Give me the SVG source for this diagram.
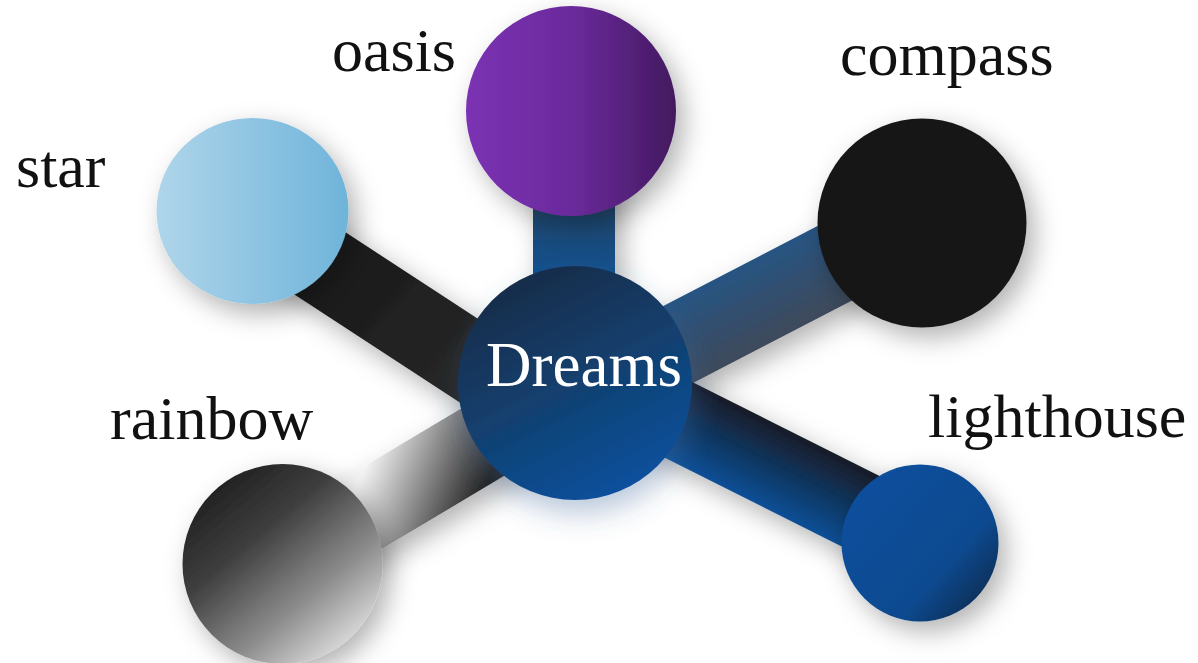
<svg xmlns="http://www.w3.org/2000/svg" width="1198" height="663" viewBox="0 0 1198 663">
  <style>
    .lbl { font-family: "Liberation Serif", "Times New Roman", serif; font-size: 62px; fill: #111111; }
    .center { font-family: "Liberation Serif", "Times New Roman", serif; font-size: 63px; fill: #ffffff; text-anchor: middle; }
  </style>
  <defs>
    <filter id="sh" x="-50%" y="-50%" width="200%" height="200%">
      <feGaussianBlur in="SourceAlpha" stdDeviation="13"/>
      <feOffset dx="8" dy="10" result="ob"/>
      <feFlood flood-color="#000000" flood-opacity="0.3"/>
      <feComposite in2="ob" operator="in"/>
      <feMerge><feMergeNode/><feMergeNode in="SourceGraphic"/></feMerge>
    </filter>
    <filter id="shBlue" x="-50%" y="-50%" width="200%" height="200%">
      <feGaussianBlur in="SourceAlpha" stdDeviation="14"/>
      <feOffset dx="4" dy="14" result="ob"/>
      <feFlood flood-color="#3f6599" flood-opacity="0.35"/>
      <feComposite in2="ob" operator="in"/>
      <feMerge><feMergeNode/><feMergeNode in="SourceGraphic"/></feMerge>
    </filter>
    <linearGradient id="gDreams" x1="0.25" y1="0" x2="0.75" y2="1">
      <stop offset="0" stop-color="#172a46"/>
      <stop offset="0.5" stop-color="#12406f"/>
      <stop offset="1" stop-color="#0b52a2"/>
    </linearGradient>
    <linearGradient id="gOasis" x1="0" y1="0" x2="1" y2="0">
      <stop offset="0" stop-color="#7b31b3"/>
      <stop offset="0.5" stop-color="#6b2b9c"/>
      <stop offset="1" stop-color="#43195f"/>
    </linearGradient>
    <linearGradient id="gStar" x1="0" y1="0" x2="1" y2="0">
      <stop offset="0" stop-color="#afd5ea"/>
      <stop offset="1" stop-color="#6fb4da"/>
    </linearGradient>
    <linearGradient id="gRainbow" x1="0.1" y1="0.05" x2="0.85" y2="0.95">
      <stop offset="0" stop-color="#1a1a1a"/>
      <stop offset="0.35" stop-color="#3e3e3e"/>
      <stop offset="0.7" stop-color="#8e8e8e"/>
      <stop offset="1" stop-color="#e6e6e6"/>
    </linearGradient>
    <linearGradient id="gLight" x1="0.1" y1="0.1" x2="1" y2="0.9">
      <stop offset="0" stop-color="#0b4f9d"/>
      <stop offset="0.65" stop-color="#0c4a90"/>
      <stop offset="0.88" stop-color="#0f3360"/>
      <stop offset="1" stop-color="#141a22"/>
    </linearGradient>
    <linearGradient id="cStar" gradientUnits="userSpaceOnUse" x1="300" y1="200" x2="560" y2="430">
      <stop offset="0" stop-color="#161616"/>
      <stop offset="1" stop-color="#2e2e2e"/>
    </linearGradient>
    <linearGradient id="cOasis" gradientUnits="userSpaceOnUse" x1="0" y1="212" x2="0" y2="275">
      <stop offset="0" stop-color="#21486e"/>
      <stop offset="1" stop-color="#10508f"/>
    </linearGradient>
    <linearGradient id="cCompass" gradientUnits="userSpaceOnUse" x1="731" y1="271" x2="769" y2="343">
      <stop offset="0" stop-color="#275483"/>
      <stop offset="1" stop-color="#3e4a5a"/>
    </linearGradient>
    <linearGradient id="cLight" gradientUnits="userSpaceOnUse" x1="768" y1="419" x2="732" y2="491">
      <stop offset="0" stop-color="#151b26"/>
      <stop offset="1" stop-color="#0c4f96"/>
    </linearGradient>
    <linearGradient id="cRainbow" gradientUnits="userSpaceOnUse" x1="370" y1="455" x2="480" y2="500">
      <stop offset="0" stop-color="#f4f4f4"/>
      <stop offset="1" stop-color="#222222"/>
    </linearGradient>
  </defs>

  <rect width="1198" height="663" fill="#ffffff"/>

  <g id="connectors" filter="url(#sh)">
    <polygon fill="url(#cStar)" points="230.1,252.5 553.1,463.5 596.9,396.5 273.9,185.5"/>
    <polygon fill="url(#cRainbow)" points="261.5,527.7 554.5,352.7 595.5,421.3 302.5,596.3"/>
    <polygon fill="url(#cCompass)" points="903.1,181.6 556.1,361.6 593.9,434.4 940.9,254.4"/>
    <polygon fill="url(#cLight)" points="557.1,403.8 902.1,576.8 937.9,505.2 592.9,332.2"/>
    <rect fill="url(#cOasis)" x="533" y="111" width="82" height="272"/>
  </g>

  <g id="node-star">
    <ellipse cx="252.5" cy="211" rx="96" ry="93" fill="url(#gStar)" filter="url(#sh)"/>
    <text class="lbl" x="16" y="187">star</text>
  </g>
  <g id="node-oasis">
    <circle cx="571" cy="111" r="105" fill="url(#gOasis)" filter="url(#sh)"/>
    <text class="lbl" x="332" y="71">oasis</text>
  </g>
  <g id="node-compass">
    <circle cx="922" cy="223" r="104.5" fill="#171717" filter="url(#sh)"/>
    <text class="lbl" x="840" y="75">compass</text>
  </g>
  <g id="node-rainbow">
    <circle cx="282.5" cy="564" r="100" fill="url(#gRainbow)" filter="url(#sh)"/>
    <text class="lbl" x="110" y="439">rainbow</text>
  </g>
  <g id="node-lighthouse">
    <circle cx="920" cy="543" r="78.5" fill="url(#gLight)" filter="url(#sh)"/>
    <text class="lbl" x="928" y="437">lighthouse</text>
  </g>
  <g id="node-dreams">
    <circle cx="575" cy="383" r="117" fill="url(#gDreams)" filter="url(#shBlue)"/>
    <text class="center" x="584" y="386">Dreams</text>
  </g>
</svg>
